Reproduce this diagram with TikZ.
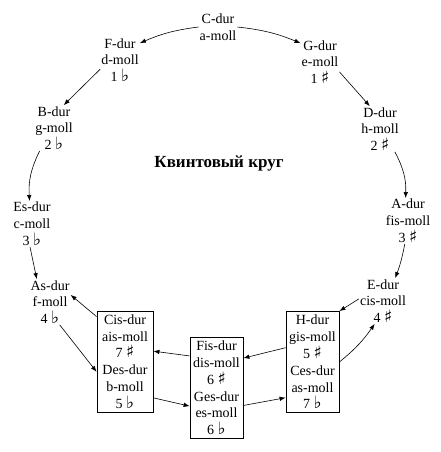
\documentclass[tikz,border=0pt]{standalone}
\usepackage{fontspec}
\setmainfont{Liberation Serif}
\newfontfamily\symf{DejaVu Sans}
\newcommand{\fl}{{\symf\fontsize{17}{16.8}\selectfont ♭}}
\newcommand{\sh}{{\symf\fontsize{17}{16.8}\selectfont ♯}}
\usetikzlibrary{arrows.meta}
\begin{document}
\begin{tikzpicture}[x=1pt,y=-1pt,
  key/.style={align=center,inner sep=1pt,font=\fontsize{14}{16.8}\selectfont},
  tbox/.style={draw,line width=0.8pt,align=center,inner xsep=2pt,inner ysep=2pt,minimum width=53pt,minimum height=101pt,font=\fontsize{14}{16.8}\selectfont},
  arr/.style={-{Latex[length=6pt,width=4.5pt]},line width=0.6pt},
]
\useasboundingbox (0,0) rectangle (441,452);
\node[key] (C) at (218,27) {C-dur\\a-moll};
\node[key] (F) at (120,60) {F-dur\\d-moll\\1 \fl};
\node[key] (G) at (320,62) {G-dur\\e-moll\\1 \sh};
\node[key] (B) at (54,128) {B-dur\\g-moll\\2 \fl};
\node[key] (D) at (380,129) {D-dur\\h-moll\\2 \sh};
\node[key] (Es) at (32,224) {Es-dur\\c-moll\\3 \fl};
\node[key] (A) at (408,221) {A-dur\\fis-moll\\3 \sh};
\node[key] (As) at (50,302) {As-dur\\f-moll\\4 \fl};
\node[key] (E) at (383,301) {E-dur\\cis-moll\\4 \sh};
\node[font=\fontsize{17}{20}\selectfont\bfseries] (T) at (219,163) {Квинтовый круг};
\node[tbox,minimum width=56pt] (L) at (125,361.5) {Cis-dur\\ais-moll\\7 \sh\\Des-dur\\b-moll\\5 \fl};
\node[tbox] (M) at (216.5,388) {Fis-dur\\dis-moll\\6 \sh\\Ges-dur\\es-moll\\6 \fl};
\node[tbox] (R) at (312.5,362) {H-dur\\gis-moll\\5 \sh\\Ces-dur\\as-moll\\7 \fl};
\draw[arr] (C.west) to[bend right=8] ([yshift=-6pt]F.north east);
\draw[arr] (C.east) to[bend left=8] ([yshift=-4pt]G.north west);
\draw[arr] (F.205) -- (B.67);
\draw[arr] (G.-27) -- (D.114);
\draw[arr] (B.-122) to[bend right=15] (Es.96);
\draw[arr] (Es.-95) -- (As.120);
\draw[arr] (D.-57) to[bend left=15] (A.96);
\draw[arr] (A.-98) to[bend left=5] (E.62);
\draw[arr] ([yshift=-6pt]L.north west) -- (As.19);
\draw[arr] (As.-67) -- (L.200);
\draw[arr] (M.130) -- (L.20);
\draw[arr] (L.-52) -- (M.214);
\draw[arr] (R.152) -- (M.48);
\draw[arr] (M.-33) -- (R.233);
\draw[arr] (E.175) -- (R.north east);
\draw[arr] (R.east) to[bend right=8] (E.250);
\end{tikzpicture}
\end{document}
